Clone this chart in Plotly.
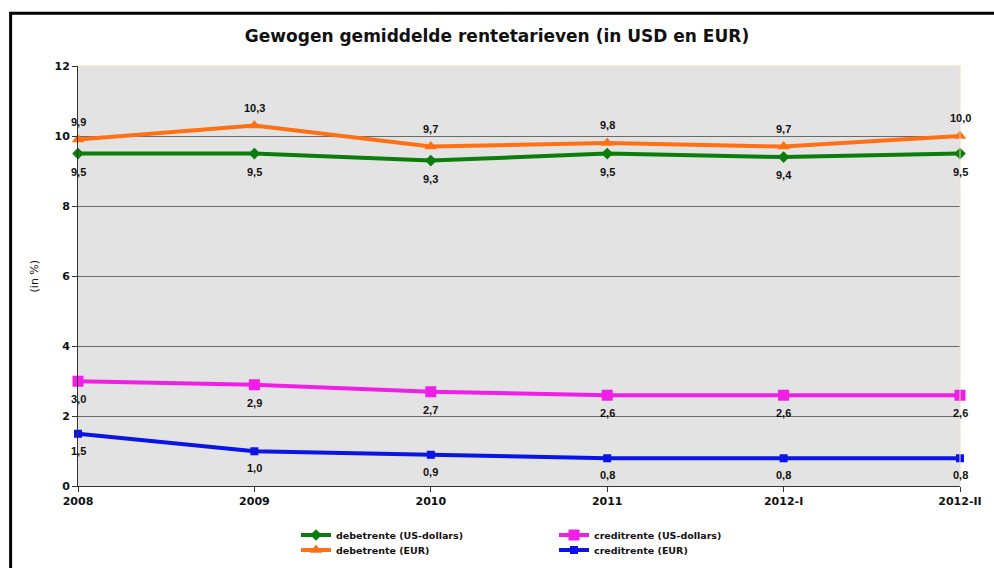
import plotly.graph_objects as go

periods = ['2008', '2009', '2010', '2011', '2012-I', '2012-II']
debet_usd = [9.5, 9.5, 9.3, 9.5, 9.4, 9.5]
debet_eur = [9.9, 10.3, 9.7, 9.8, 9.7, 10.0]
credit_usd = [3.0, 2.9, 2.7, 2.6, 2.6, 2.6]
credit_eur = [1.5, 1.0, 0.9, 0.8, 0.8, 0.8]

WIDE = 'DejaVu Sans, Verdana, sans-serif'
NARROW = 'Liberation Sans, Arial, sans-serif'


def labels(vals):
    return [f'{v:.1f}'.replace('.', ',') for v in vals]


# (values, name, colour, symbol, marker size, legend, rank, label shift in px)
series = [
    (credit_eur, 'creditrente (EUR)', '#0a14e6', 'square', 8, 'legend2', 2, -17),
    (credit_usd, 'creditrente (US-dollars)', '#f01ee6', 'square', 11, 'legend', 2, -18),
    (debet_usd, 'debetrente (US-dollars)', '#0a7d0a', 'diamond', 9, 'legend', 1, -18),
    (debet_eur, 'debetrente (EUR)', '#ff7014', 'triangle-up', 11, 'legend2', 1, 18),
]

fig = go.Figure()
annotations = []
for vals, name, color, symbol, size, leg, rank, shift in series:
    fig.add_trace(go.Scatter(x=periods, y=vals, name=name, mode='lines+markers',
                             line=dict(color=color, width=4), marker=dict(symbol=symbol, size=size),
                             cliponaxis=False, legend=leg, legendrank=rank))
    # numeric-looking category names would be read as positions, so use the category index
    for i, (v, t) in enumerate(zip(vals, labels(vals))):
        annotations.append(dict(x=i, y=v, text=t, showarrow=False, yshift=shift,
                                xanchor='center', yanchor='middle',
                                font=dict(family=NARROW, size=11, color='#111', weight='bold')))


def px(x):
    return (x - 78) / 890


def py(y):
    return (488 - y) / 422


legend_style = dict(orientation='h', font=dict(family=WIDE, size=9.5, color='#111', weight='bold'),
                    bgcolor='rgba(0,0,0,0)', entrywidth=213, entrywidthmode='pixels',
                    xref='container', yref='container', xanchor='left', yanchor='middle',
                    traceorder='normal')

fig.update_layout(
    width=994, height=568,
    margin=dict(l=78, r=26, t=66, b=80),
    paper_bgcolor='white',
    plot_bgcolor='#e3e3e3',
    title=dict(text='Gewogen gemiddelde rentetarieven (in USD en EUR)', x=0.5, xanchor='center',
               y=(568 - 36) / 568, yanchor='middle',
               font=dict(family=WIDE, size=17, color='#111', weight='bold')),
    xaxis=dict(type='category', range=[0, 5], showgrid=False, showline=True, linecolor='#333',
               linewidth=1, ticks='outside', ticklen=5, tickcolor='#333',
               tickfont=dict(family=WIDE, size=11, color='#111', weight='bold')),
    yaxis=dict(range=[0, 12], dtick=2, showgrid=True, gridcolor='#6a6a6a', gridwidth=1,
               showline=True, linecolor='#333', linewidth=1, ticks='outside', ticklen=5,
               tickcolor='#333', zeroline=False,
               tickfont=dict(family=WIDE, size=11, color='#111', weight='bold'),
               title=dict(text='(in %)', standoff=13, font=dict(family=WIDE, size=11, color='#111'))),
    legend=dict(x=296 / 994, y=(568 - 535) / 568, **legend_style),
    legend2=dict(x=296 / 994, y=(568 - 550) / 568, **legend_style),
    annotations=annotations,
    shapes=[
        dict(type='line', xref='paper', yref='paper', x0=0, x1=1, y0=1, y1=1,
             line=dict(color='#f3d9c2', width=1)),
        dict(type='line', xref='paper', yref='paper', x0=1, x1=1, y0=0, y1=1,
             line=dict(color='#f3d9c2', width=1)),
        dict(type='rect', xref='paper', yref='paper', x0=px(10), x1=px(1010), y0=py(13), y1=py(590),
             line=dict(color='black', width=3), fillcolor='rgba(0,0,0,0)'),
    ],
)

fig.write_html('out.html', config={'displayModeBar': False},
               post_script="document.body.style.margin='0';")
